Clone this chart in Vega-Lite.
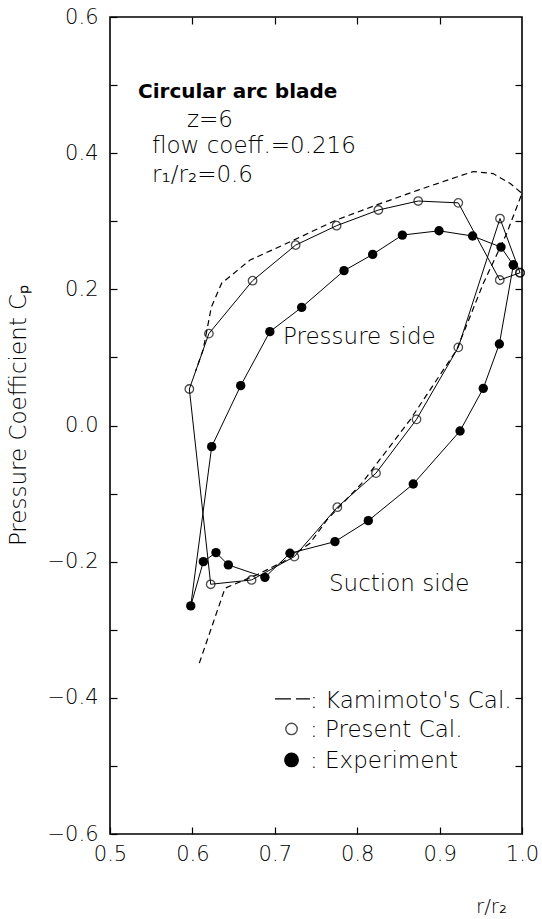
{
  "$schema": "https://vega.github.io/schema/vega-lite/v6.json",
  "width": 412,
  "height": 817,
  "autosize": "none",
  "padding": {"left": 110, "top": 17, "right": 20, "bottom": 85},
  "background": "white",
  "config": {
    "view": {"stroke": "black", "strokeWidth": 1.6},
    "axis": {"domain": false, "grid": false, "tickColor": "black", "tickWidth": 1.2, "labelColor": "black", "titleColor": "black", "labelFont": "DejaVu Sans", "titleFont": "DejaVu Sans", "labelFontWeight": 200, "titleFontWeight": 200}
  },
  "datasets": {
    "kam": [
      {"o": 1, "x": 0.6084, "y": -0.349}, {"o": 2, "x": 0.6396, "y": -0.239}, {"o": 3, "x": 0.6537, "y": -0.2317},
      {"o": 4, "x": 0.678, "y": -0.2195}, {"o": 5, "x": 0.7103, "y": -0.2}, {"o": 6, "x": 0.7427, "y": -0.173},
      {"o": 7, "x": 0.763, "y": -0.139}, {"o": 8, "x": 0.8055, "y": -0.085}, {"o": 9, "x": 0.864, "y": 0.008},
      {"o": 10, "x": 0.9207, "y": 0.111}, {"o": 11, "x": 0.9531, "y": 0.2088}, {"o": 12, "x": 0.9814, "y": 0.282},
      {"o": 13, "x": 1.0, "y": 0.341}, {"o": 14, "x": 0.9854, "y": 0.3557}, {"o": 15, "x": 0.965, "y": 0.37},
      {"o": 16, "x": 0.941, "y": 0.373}, {"o": 17, "x": 0.9207, "y": 0.365}, {"o": 18, "x": 0.874, "y": 0.3458},
      {"o": 19, "x": 0.8236, "y": 0.324}, {"o": 20, "x": 0.775, "y": 0.302}, {"o": 21, "x": 0.7225, "y": 0.272},
      {"o": 22, "x": 0.67, "y": 0.243}, {"o": 23, "x": 0.6355, "y": 0.209}, {"o": 24, "x": 0.623, "y": 0.174},
      {"o": 25, "x": 0.613, "y": 0.111}, {"o": 26, "x": 0.604, "y": 0.08}
    ],
    "present": [
      {"o": 1, "x": 0.9976, "y": 0.2244}, {"o": 2, "x": 0.973, "y": 0.2137}, {"o": 3, "x": 0.9227, "y": 0.327},
      {"o": 4, "x": 0.874, "y": 0.3297}, {"o": 5, "x": 0.8257, "y": 0.3165}, {"o": 6, "x": 0.775, "y": 0.2935},
      {"o": 7, "x": 0.7253, "y": 0.265}, {"o": 8, "x": 0.673, "y": 0.2127}, {"o": 9, "x": 0.62, "y": 0.135},
      {"o": 10, "x": 0.5963, "y": 0.0536}, {"o": 11, "x": 0.6222, "y": -0.2332}, {"o": 12, "x": 0.6718, "y": -0.2269},
      {"o": 13, "x": 0.7237, "y": -0.1926}, {"o": 14, "x": 0.7759, "y": -0.12}, {"o": 15, "x": 0.8228, "y": -0.07},
      {"o": 16, "x": 0.872, "y": 0.009}, {"o": 17, "x": 0.9227, "y": 0.1148}, {"o": 18, "x": 0.9733, "y": 0.304},
      {"o": 19, "x": 0.9976, "y": 0.2244}
    ],
    "exp": [
      {"o": 1, "x": 0.9895, "y": 0.2357}, {"o": 2, "x": 0.9745, "y": 0.262}, {"o": 3, "x": 0.9401, "y": 0.2783},
      {"o": 4, "x": 0.8993, "y": 0.286}, {"o": 5, "x": 0.8548, "y": 0.2797}, {"o": 6, "x": 0.8188, "y": 0.2513},
      {"o": 7, "x": 0.784, "y": 0.2274}, {"o": 8, "x": 0.7326, "y": 0.1735}, {"o": 9, "x": 0.694, "y": 0.1378},
      {"o": 10, "x": 0.6586, "y": 0.0585}, {"o": 11, "x": 0.6234, "y": -0.0311}, {"o": 12, "x": 0.598, "y": -0.265},
      {"o": 13, "x": 0.6133, "y": -0.2}, {"o": 14, "x": 0.6286, "y": -0.1867}, {"o": 15, "x": 0.6436, "y": -0.2048},
      {"o": 16, "x": 0.688, "y": -0.223}, {"o": 17, "x": 0.7184, "y": -0.1877}, {"o": 18, "x": 0.773, "y": -0.1706},
      {"o": 19, "x": 0.8135, "y": -0.1398}, {"o": 20, "x": 0.868, "y": -0.086}, {"o": 21, "x": 0.9248, "y": -0.008},
      {"o": 22, "x": 0.953, "y": 0.0546}, {"o": 23, "x": 0.9725, "y": 0.1197}, {"o": 24, "x": 0.9895, "y": 0.2357}
    ],
    "titleText": [{"x": 0.534, "y": 0.4809, "t": "Circular arc blade"}],
    "infoText": [
      {"x": 0.5934, "y": 0.4383, "t": "z=6"},
      {"x": 0.551, "y": 0.4006, "t": "flow coeff.=0.216"},
      {"x": 0.551, "y": 0.358, "t": "r₁/r₂=0.6"},
      {"x": 0.71, "y": 0.1197, "t": "Pressure side"},
      {"x": 0.7658, "y": -0.2426, "t": "Suction side"},
      {"x": 0.7427, "y": -0.4148, "t": ": Kamimoto's Cal."},
      {"x": 0.7427, "y": -0.457, "t": ": Present Cal."},
      {"x": 0.7427, "y": -0.503, "t": ": Experiment"}
    ],
    "legDash": [{"o": 1, "x": 0.7002, "y": -0.4016}, {"o": 2, "x": 0.7427, "y": -0.4016}],
    "legOpen": [{"x": 0.7203, "y": -0.4457}],
    "legFill": [{"x": 0.7203, "y": -0.4912}]
  },
  "encoding": {
    "x": {"field": "x", "type": "quantitative", "scale": {"domain": [0.5, 1.0], "nice": false, "zero": false}, "axis": null},
    "y": {"field": "y", "type": "quantitative", "scale": {"domain": [-0.6, 0.6], "nice": false, "zero": false}, "axis": null}
  },
  "resolve": {"axis": {"x": "independent", "y": "independent"}},
  "layer": [
    {
      "data": {"name": "kam"},
      "mark": {"type": "line", "color": "black", "strokeWidth": 1.2, "strokeDash": [6, 4]},
      "encoding": {
        "order": {"field": "o", "type": "quantitative"},
        "x": {"field": "x", "type": "quantitative", "scale": {"domain": [0.5, 1.0], "nice": false, "zero": false},
          "axis": {"orient": "bottom", "values": [0.5, 0.6, 0.7, 0.8, 0.9, 1.0], "format": ".1f", "tickSize": -7, "labelPadding": 16, "labelFontSize": 21, "labelOverlap": false, "labelFlush": false, "title": "r/r₂", "titleFontSize": 20, "titleX": 381, "titleY": 72, "titleAnchor": null, "titleAlign": "center", "titleBaseline": "middle"}},
        "y": {"field": "y", "type": "quantitative", "scale": {"domain": [-0.6, 0.6], "nice": false, "zero": false},
          "axis": {"orient": "left", "values": [-0.6, -0.5, -0.4, -0.3, -0.2, -0.1, 0, 0.1, 0.2, 0.3, 0.4, 0.5, 0.6], "labelExpr": "abs(round(datum.value*10)) % 2 == 0 ? format(datum.value, '.1f') : ''", "tickSize": -7, "labelPadding": 19, "labelFontSize": 21, "labelOverlap": false, "labelFlush": false, "title": "Pressure Coefficient Cₚ", "titleFontSize": 23, "titleAngle": 270, "titleX": -92, "titleY": 398, "titleAlign": "center", "titleBaseline": "middle"}}
      }
    },
    {
      "data": {"name": "present"},
      "mark": {"type": "line", "color": "black", "strokeWidth": 1},
      "encoding": {
        "order": {"field": "o", "type": "quantitative"},
        "x": {"field": "x", "type": "quantitative", "scale": {"domain": [0.5, 1.0], "nice": false, "zero": false},
          "axis": {"orient": "top", "values": [0.6, 0.7, 0.8, 0.9], "tickSize": -7, "labels": false, "title": null}},
        "y": {"field": "y", "type": "quantitative", "scale": {"domain": [-0.6, 0.6], "nice": false, "zero": false},
          "axis": {"orient": "right", "values": [-0.5, -0.4, -0.3, -0.2, -0.1, 0, 0.1, 0.2, 0.3, 0.4, 0.5], "tickSize": -7, "labels": false, "title": null}}
      }
    },
    {
      "data": {"name": "present"},
      "mark": {"type": "point", "shape": "circle", "filled": false, "color": "black", "strokeWidth": 1.3, "size": 72}
    },
    {
      "data": {"name": "exp"},
      "mark": {"type": "line", "color": "black", "strokeWidth": 1},
      "encoding": {"order": {"field": "o", "type": "quantitative"}}
    },
    {
      "data": {"name": "exp"},
      "mark": {"type": "point", "shape": "circle", "filled": true, "color": "black", "opacity": 1, "size": 88}
    },
    {
      "data": {"name": "titleText"},
      "mark": {"type": "text", "align": "left", "baseline": "alphabetic", "font": "DejaVu Sans", "fontWeight": "bold", "fontSize": 20, "color": "black"},
      "encoding": {"text": {"field": "t"}}
    },
    {
      "data": {"name": "infoText"},
      "mark": {"type": "text", "align": "left", "baseline": "alphabetic", "font": "DejaVu Sans", "fontWeight": 200, "fontSize": 23, "color": "black"},
      "encoding": {"text": {"field": "t"}}
    },
    {
      "data": {"name": "legDash"},
      "mark": {"type": "line", "color": "black", "strokeWidth": 1.3, "strokeDash": [16, 5]},
      "encoding": {"order": {"field": "o", "type": "quantitative"}}
    },
    {
      "data": {"name": "legOpen"},
      "mark": {"type": "point", "shape": "circle", "filled": false, "color": "black", "strokeWidth": 1.4, "size": 130}
    },
    {
      "data": {"name": "legFill"},
      "mark": {"type": "point", "shape": "circle", "filled": true, "color": "black", "opacity": 1, "size": 220}
    }
  ]
}
